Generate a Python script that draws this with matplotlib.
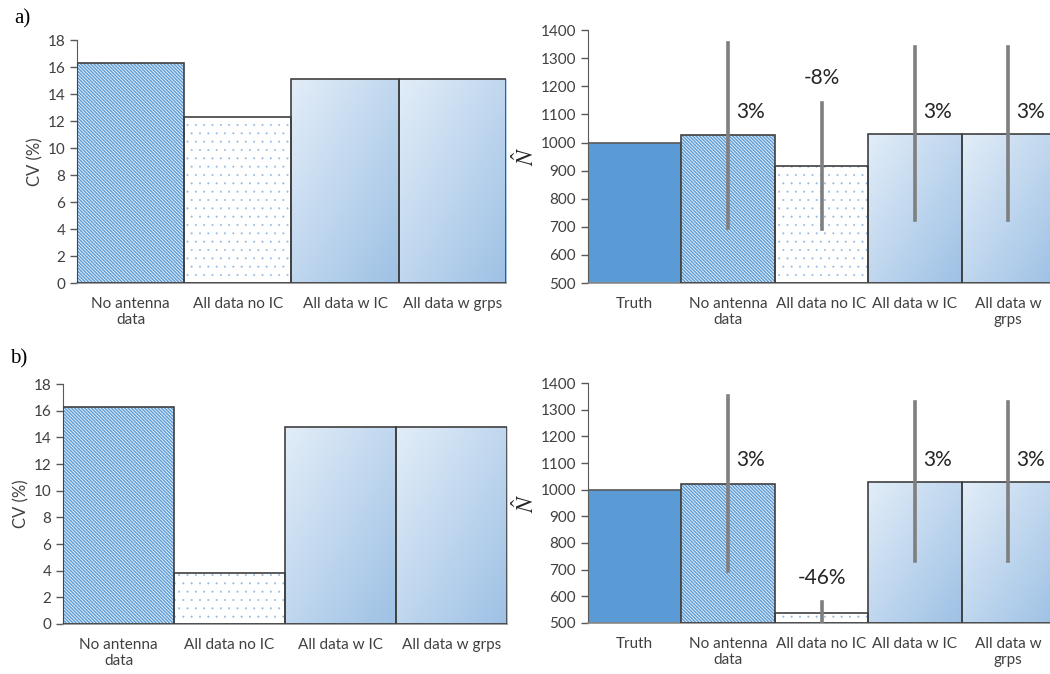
import numpy as np
import matplotlib
matplotlib.use('Agg')
import matplotlib.pyplot as plt
from matplotlib.colors import LinearSegmentedColormap

# data
cv_cats = ['No antenna\ndata', 'All data no IC', 'All data w IC', 'All data w grps']
cv_a = [16.3, 12.3, 15.1, 15.1]
cv_b = [16.3, 3.8, 14.8, 14.8]

n_cats = ['Truth', 'No antenna\ndata', 'All data no IC', 'All data w IC', 'All data w\ngrps']
n_a = [1000, 1027, 917, 1030, 1030]
n_a_lo = [np.nan, 695, 693, 724, 724]
n_a_hi = [np.nan, 1355, 1141, 1338, 1338]
n_a_lab = [None, '3%', '-8%', '3%', '3%']
n_a_laby = [None, 1108, 1229, 1108, 1108]

n_b = [1000, 1022, 536, 1028, 1028]
n_b_lo = [np.nan, 696, 470, 731, 731]
n_b_hi = [np.nan, 1352, 580, 1329, 1329]
n_b_lab = [None, '3%', '-46%', '3%', '3%']
n_b_laby = [None, 1111, 669, 1111, 1111]

styles_cv = ['hatch', 'dots', 'grad', 'grad']
styles_n = ['solid', 'hatch', 'dots', 'grad', 'grad']

BLUE = '#5B9BD5'
EDGE = '#404040'
TXT = '#404040'
grad_cmap = LinearSegmentedColormap.from_list('g', ['#E2EDF8', '#9EC1E5'])

plt.rcParams['font.family'] = ['Lato', 'DejaVu Sans']
plt.rcParams['mathtext.fontset'] = 'stix'


def draw_bars(ax, vals, styles, base):
	x = np.arange(len(vals))
	for i, (v, s) in enumerate(zip(vals, styles)):
		if s == 'solid':
			ax.bar(i, v - base, bottom=base, width=1.0, color=BLUE, edgecolor='#595959', linewidth=1.2, zorder=2)
			continue
		if s == 'hatch':
			with plt.rc_context({'hatch.linewidth': 1.0}):
				ax.bar(i, v - base, bottom=base, width=1.0, facecolor='#eaf2fa', edgecolor=BLUE,
					hatch='\\\\\\\\\\\\\\\\\\\\', linewidth=0, zorder=2)
		elif s == 'dots':
			with plt.rc_context({'hatch.linewidth': 0.2}):
				ax.bar(i, v - base, bottom=base, width=1.0, facecolor='white', edgecolor='#8DB8E2',
					hatch='..', linewidth=0, zorder=2)
		elif s == 'grad':
			b = ax.bar(i, v - base, bottom=base, width=1.0, facecolor='none', linewidth=0, zorder=2)[0]
			gx, gy = np.meshgrid(np.linspace(0, 1, 64), np.linspace(0, 1, 64))
			g = (gx + gy) / 2.0
			im = ax.imshow(g, cmap=grad_cmap, extent=(i - 0.5, i + 0.5, base, v), origin='upper',
				aspect='auto', interpolation='bilinear', zorder=2)
			im.set_clip_path(b)
		ax.bar(i, v - base, bottom=base, width=1.0, facecolor='none', edgecolor=EDGE, linewidth=1.2, zorder=3)
	return x


def style_axes(ax, cats, ylim, step):
	ax.set_xlim(-0.5, len(cats) - 0.5)
	ax.set_ylim(*ylim)
	ax.set_yticks(np.arange(ylim[0], ylim[1] + step / 2, step))
	ax.set_xticks(np.arange(len(cats)))
	ax.set_xticklabels(cats, fontsize=11, color=TXT, linespacing=1.15)
	ax.tick_params(axis='x', length=0, pad=10)
	ax.tick_params(axis='y', length=5, labelsize=11, labelcolor=TXT, color='#595959', width=1)
	ax.spines['right'].set_visible(False)
	ax.spines['top'].set_visible(False)
	ax.spines['left'].set_color('#595959')
	ax.spines['bottom'].set_color('#8c8c8c')
	ax.spines['bottom'].set_linewidth(1.2)


def cv_panel(ax, vals):
	draw_bars(ax, vals, styles_cv, 0)
	style_axes(ax, cv_cats, (0, 18), 2)
	ax.set_ylabel('CV (%)', fontsize=12, color=TXT, labelpad=3)


def n_panel(ax, vals, lo, hi, labs, laby):
	draw_bars(ax, vals, styles_n, 500)
	for i in range(len(vals)):
		if np.isnan(lo[i]):
			continue
		ax.plot([i, i], [lo[i], hi[i]], color='#7f7f7f', linewidth=2.6, solid_capstyle='projecting', zorder=4)
	for i in range(len(vals)):
		if labs[i] is None:
			continue
		dx = 0.0 if labs[i].startswith('-') else 0.24
		ax.text(i + dx, laby[i], labs[i], ha='center', va='center', fontsize=15, color='#262626', zorder=5)
	style_axes(ax, n_cats, (500, 1400), 100)
	ax.set_ylabel(r'$\hat{N}$', fontsize=17, color='#262626', labelpad=2)


fig = plt.figure(figsize=(10.5, 6.74), dpi=100)

ax1 = fig.add_axes([0.0733, 0.580, 0.4086, 0.3605])
ax2 = fig.add_axes([0.560, 0.580, 0.4448, 0.3754])
ax3 = fig.add_axes([0.060, 0.0742, 0.4229, 0.356])
ax4 = fig.add_axes([0.560, 0.0757, 0.4448, 0.356])

cv_panel(ax1, cv_a)
n_panel(ax2, n_a, n_a_lo, n_a_hi, n_a_lab, n_a_laby)
cv_panel(ax3, cv_b)
n_panel(ax4, n_b, n_b_lo, n_b_hi, n_b_lab, n_b_laby)

fig.text(0.014, 0.972, 'a)', fontsize=15, family='Liberation Serif', va='center', ha='left')
fig.text(0.010, 0.467, 'b)', fontsize=15, family='Liberation Serif', va='center', ha='left')

plt.savefig('out.png', dpi=100)
